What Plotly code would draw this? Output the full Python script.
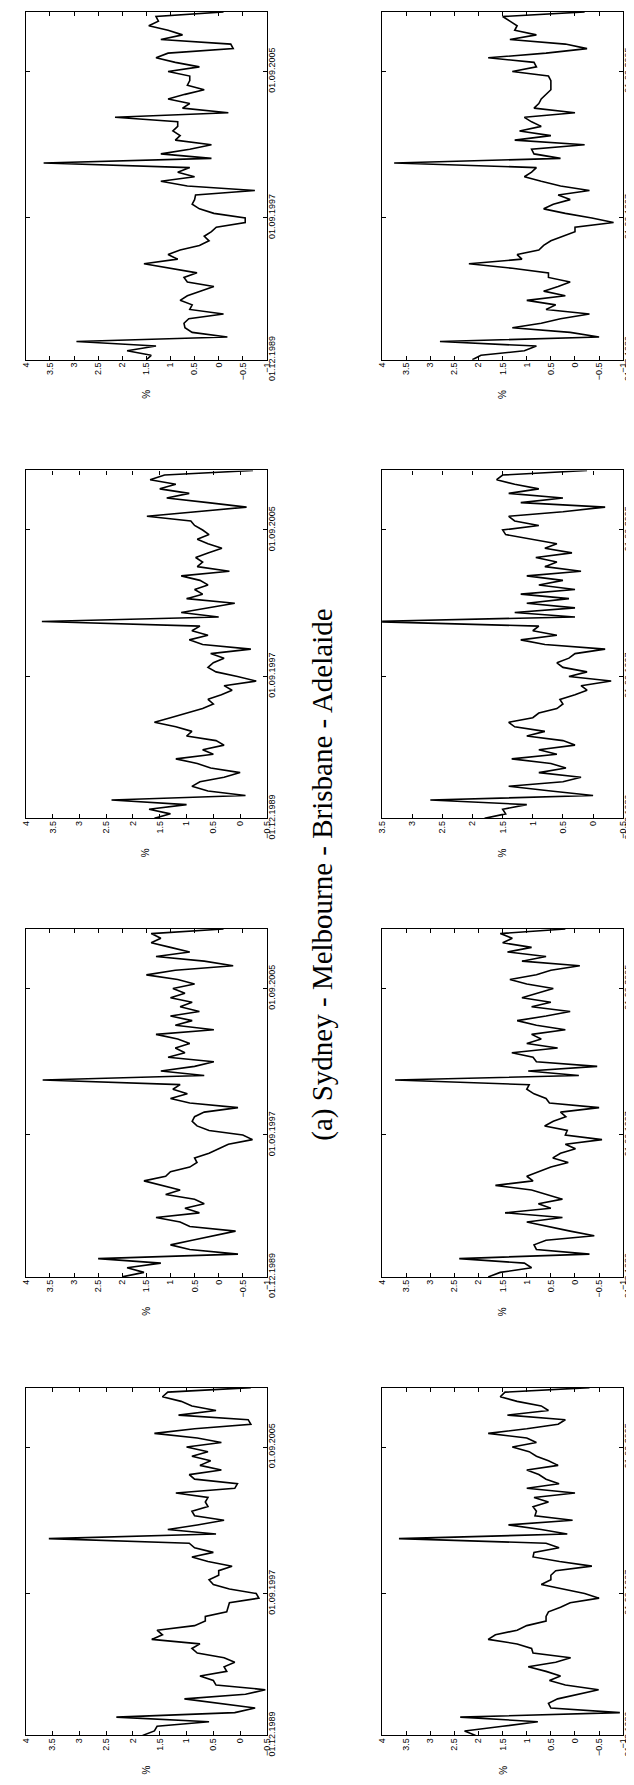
import plotly.graph_objects as go
import pandas as pd

# ---------------- data (quarterly % change, Dec 1989 .. Dec 2008) ----------------
quarters = pd.date_range("1989-12-01", "2008-12-01", freq="3MS")

date_tickvals = ["1989-12-01", "1997-09-01", "2005-09-01"]
date_ticktext = ["01.12.1989", "01.09.1997", "01.09.2005"]

r1c1 = [1.5, 1.4, 1.9, 1.3, 2.95, -0.18, 0.55, 0.7, 0.72, 0.62,
        -0.1, 0.6, 0.55, 0.8, 0.65, 0.35, 0.1, 0.65, 0.72, 0.45,
        1.0, 1.55, 0.85, 1.05, 0.8, 0.4, 0.2, 0.3, 0.15, 0.05,
        -0.55, -0.55, 0.1, 0.4, 0.55, 0.5, 0.48, -0.75, 0.65, 1.2,
        0.5, 0.85, 0.6, 3.63, 0.15, 1.2, 0.6, 0.15, 0.9, 0.8,
        0.95, 0.85, 0.85, 2.15, -0.2, 0.75, 0.6, 1.05, 0.7, 0.3,
        0.65, 0.6, 0.6, 1.05, 0.4, 0.9, 1.3, 1.05, -0.3, -0.25,
        1.2, 0.75, 1.05, 1.45, 1.25, 1.3, -0.1]

r1c2 = [2.13, 1.95, 1.05, 0.8, 2.8, -0.5, 0.1, 1.3, 0.7, 0.3,
        -0.3, 0.6, 0.4, 1.0, 0.2, 0.65, 0.35, 0.1, 0.55, 0.55,
        1.3, 2.2, 1.1, 1.2, 0.75, 0.65, 0.5, 0.25, 0.0, 0.0,
        -0.8, -0.35, 0.2, 0.65, 0.45, 0.1, 0.35, -0.3, 0.3, 0.7,
        1.05, 0.9, 0.8, 3.75, 0.3, 0.85, 0.9, -0.2, 1.25, 0.5,
        1.15, 0.7, 0.9, 1.05, 0.0, 0.85, 0.75, 0.7, 0.6, 0.5,
        0.5, 0.5, 0.55, 1.3, 0.8, 0.85, 1.8, 0.6, -0.25, 0.2,
        1.35, 0.8, 1.25, 1.2, 1.35, 1.5, -0.2]

r2c1 = [1.6, 1.3, 1.7, 1.0, 2.4, -0.1, 0.6, 0.9, 0.75, 0.3,
        0.0, 0.55, 0.8, 1.2, 0.5, 0.7, 0.3, 0.45, 1.0, 0.9,
        1.2, 1.6, 1.3, 1.0, 0.7, 0.5, 0.6, 0.35, 0.15, 0.3,
        -0.3, 0.05, 0.45, 0.6, 0.5, 0.3, 0.55, -0.2, 0.7, 0.95,
        0.6, 0.9, 0.75, 3.7, 0.4, 1.1, 0.6, 0.1, 1.0, 0.7,
        0.85, 0.6, 0.75, 1.1, 0.2, 0.8, 0.7, 0.83, 0.6, 0.34,
        0.6, 0.8, 0.58, 0.7, 0.85, 0.92, 1.74, 0.8, -0.12, 0.6,
        1.37, 0.95, 1.5, 1.2, 1.68, 1.41, -0.24]

r2c2 = [1.8, 1.45, 1.5, 1.1, 2.7, 0.0, 0.7, 1.4, 0.5, 0.2,
        0.9, 0.45, 0.7, 1.35, 0.6, 0.9, 0.3, 0.5, 1.1, 0.8,
        1.3, 1.4, 1.0, 0.9, 0.6, 0.5, 0.55, 0.3, 0.1, 0.2,
        -0.3, 0.4, 0.1, 0.5, 0.6, 0.4, 0.3, -0.2, 0.8, 1.2,
        0.6, 1.0, 0.9, 3.7, 0.3, 1.3, 0.3, 1.1, 0.4, 1.2,
        0.3, 0.9, 0.5, 1.1, 0.2, 0.8, 0.6, 0.95, 0.35, 0.8,
        0.6, 1.0, 1.45, 1.5, 0.9, 1.3, 1.4, 0.5, -0.2, 1.2,
        0.5, 1.4, 0.9, 1.3, 1.6, 1.5, 0.1]

r3c1 = [2.0, 1.55, 1.9, 1.2, 2.5, -0.4, 0.6, 1.0, 0.55, 0.1,
        -0.35, 0.6, 0.8, 1.3, 0.4, 0.7, 0.3, 0.5, 1.1, 0.8,
        1.2, 1.55, 1.1, 1.0, 0.6, 0.45, 0.5, 0.2, 0.0, -0.2,
        -0.7, -0.5, 0.2, 0.45, 0.55, 0.5, 0.3, -0.4, 0.6, 1.0,
        0.65, 0.95, 0.8, 3.65, 0.3, 1.2, 0.5, 0.1, 1.05, 0.7,
        0.9, 0.6, 0.85, 1.3, 0.1, 0.9, 0.55, 1.0, 0.4, 0.8,
        0.55, 1.0, 0.7, 0.95, 0.5, 0.85, 1.5, 0.9, -0.3, 0.3,
        1.3, 0.6, 1.0, 1.4, 1.2, 1.4, -0.1]

r3c2 = [1.8, 1.55, 0.9, 1.05, 2.4, -0.3, 0.8, 0.85, 0.6, -0.4,
        0.1, 0.55, 1.0, 0.26, 1.45, 0.5, 0.76, 0.26, 0.6, 0.9,
        1.65, 0.87, 1.0, 0.75, 0.5, 0.14, 0.46, 0.3, -0.01, 0.2,
        -0.56, 0.2, 0.16, 0.63, 0.45, 0.19, 0.3, -0.5, 0.53, 0.6,
        0.85, 1.0, 0.95, 3.73, -0.08, 0.97, -0.46, 0.8, 0.87, 1.31,
        0.36, 1.0, 0.7, 0.9, 0.2, 0.8, 1.2, 0.6, 0.1, 0.9,
        0.5, 1.1, 0.75, 0.45, 1.0, 1.35, 0.8, 0.5, -0.1, 1.1,
        0.6, 1.4, 0.9, 1.5, 1.3, 1.55, 0.2]

r4c1 = [1.82, 1.6, 1.55, 0.58, 2.31, 0.1, -0.28, 0.4, 1.04, -0.1,
        -0.47, 0.45, 0.5, 0.75, 0.25, 0.3, 0.1, 0.3, 0.8, 0.9,
        0.75, 1.65, 1.45, 1.55, 0.85, 0.65, 0.65, 0.25, 0.22, 0.2,
        -0.35, -0.3, 0.2, 0.5, 0.58, 0.4, 0.4, 0.15, 0.6, 0.9,
        0.5, 0.85, 0.95, 3.57, 0.45, 1.35, 0.8, 0.3, 0.85, 0.9,
        0.6, 0.65, 0.6, 1.2, 0.1, 0.05, 0.85, 0.95, 0.35, 0.75,
        0.55, 0.9, 0.6, 1.0, 0.35, 0.8, 1.6, 0.85, -0.2, -0.15,
        1.15, 0.45, 0.9, 1.1, 1.45, 1.35, -0.2]

r4c2 = [2.06, 2.29, 1.5, 0.77, 2.38, -0.93, 0.5, 0.55, 0.36, -0.1,
        -0.49, 0.2, 0.53, 0.3, 0.6, 0.97, 0.4, 0.09, 0.87, 0.9,
        1.2, 1.8, 1.65, 1.2, 1.0, 0.6, 0.6, 0.55, 0.3, 0.1,
        -0.5, -0.2, 0.22, 0.7, 0.5, 0.5, 0.4, -0.35, 0.32, 0.87,
        0.85, 0.33, 0.6, 3.65, 0.16, 0.7, 1.38, 0.05, 0.83, 0.8,
        0.87, 0.55, 0.85, 0.0, 1.0, 0.33, 0.6, 0.75, 1.0, 0.35,
        0.55, 0.8, 0.95, 1.3, 0.8, 1.0, 1.8, 1.0, 0.35, 0.2,
        1.4, 0.55, 0.7, 1.2, 1.55, 1.45, -0.3]

# value-axis extents (left end, right end) per panel
ranges = {
    "r1c1": (4.0, -1.0), "r1c2": (4.0, -1.0),
    "r2c1": (4.0, -0.5), "r2c2": (3.5, -0.5),
    "r3c1": (4.0, -1.0), "r3c2": (4.0, -1.0),
    "r4c1": (4.0, -0.5), "r4c2": (4.0, -1.0),
}
caption = "(a) Sydney - Melbourne - Brisbane - Adelaide"

# ---------------- layout geometry (pixels) ----------------
W, H = 634, 1785
col_x = [(13, 258), (375, 620)]
row_top = [4, 468, 932, 1396]
box_h = 352

panels = [("r1c1", r1c1, 0, 0), ("r1c2", r1c2, 0, 1),
          ("r2c1", r2c1, 1, 0), ("r2c2", r2c2, 1, 1),
          ("r3c1", r3c1, 2, 0), ("r3c2", r3c2, 2, 1),
          ("r4c1", r4c1, 3, 0), ("r4c2", r4c2, 3, 1)]

FONT = dict(family="Liberation Sans, Arial, sans-serif", size=9, color="black")


def fmt(v):
    s = ("%g" % v)
    return s.replace("-", "\u2212")


fig = go.Figure()
layout = dict(width=W, height=H, margin=dict(l=0, r=0, t=0, b=0),
              paper_bgcolor="white", plot_bgcolor="white",
              showlegend=False, annotations=[])

for i, (key, vals, r, c) in enumerate(panels, start=1):
    xs = "x" if i == 1 else "x%d" % i
    ys = "y" if i == 1 else "y%d" % i
    fig.add_trace(go.Scatter(x=vals, y=quarters, mode="lines",
                             line=dict(color="black", width=1.6),
                             xaxis=xs, yaxis=ys, hoverinfo="skip"))
    vmax, vmin = ranges[key]
    n = int(round((vmax - vmin) / 0.5))
    tv = [vmax - 0.5 * k for k in range(n + 1)]
    x0, x1 = col_x[c]
    top = row_top[r]
    bot = top + box_h
    layout["xaxis" if i == 1 else "xaxis%d" % i] = dict(
        domain=[x0 / W, x1 / W], range=[vmax, vmin], anchor=ys,
        tickvals=tv, ticktext=[fmt(v) for v in tv], tickangle=-90,
        ticks="inside", ticklen=4, tickcolor="black", tickwidth=1,
        ticklabelstandoff=-2,
        showline=True, linecolor="black", linewidth=1.3, mirror="ticks",
        showgrid=False, zeroline=False, tickfont=FONT)
    layout["yaxis" if i == 1 else "yaxis%d" % i] = dict(
        domain=[1 - bot / H, 1 - top / H], type="date",
        range=[quarters[0], quarters[-1]], anchor=xs, side="right",
        tickvals=date_tickvals, ticktext=date_ticktext, tickangle=-90,
        ticks="inside", ticklen=4, tickcolor="black", tickwidth=1,
        ticklabelstandoff=-4,
        showline=True, linecolor="black", linewidth=1.3, mirror="ticks",
        showgrid=False, zeroline=False, tickfont=FONT)
    layout["annotations"].append(dict(
        text="%", xref="paper", yref="paper",
        x=(x0 + x1) / 2 / W, y=1 - (bot + 35) / H,
        xanchor="center", yanchor="middle", textangle=-90,
        showarrow=False, font=dict(FONT, size=10)))

layout["annotations"].append(dict(
    text=caption, xref="paper", yref="paper",
    x=315 / W, y=1 - 877 / H, xanchor="center", yanchor="middle",
    textangle=-90, showarrow=False,
    font=dict(family="Liberation Serif, Times New Roman, serif", size=29, color="black")))

fig.update_layout(**layout)
fig.write_html("out.html")
